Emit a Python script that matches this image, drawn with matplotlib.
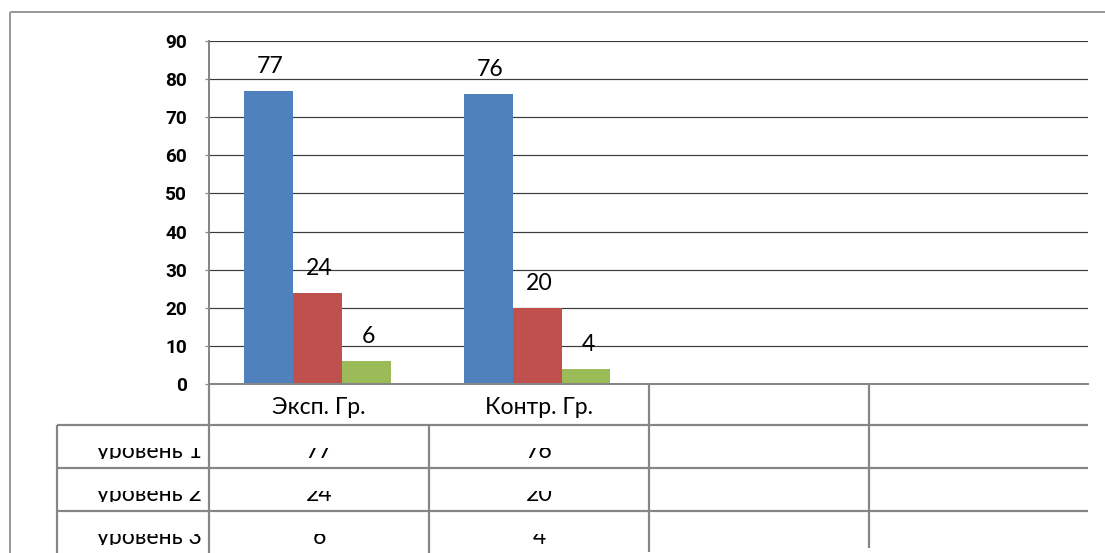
import matplotlib
matplotlib.use("Agg")
import matplotlib.pyplot as plt
from matplotlib.transforms import Bbox, TransformedBbox
import numpy as np

# ---- data ----
categories = ["Эксп. Гр.", "Контр. Гр.", "", ""]
series_names = ["уровень 1", "уровень 2", "уровень 3"]
level1 = [77, 76]
level2 = [24, 20]
level3 = [6, 4]
series_values = [level1, level2, level3]
colors = ["#4F81BD", "#C0504D", "#9BBB59"]
yticks = [0, 10, 20, 30, 40, 50, 60, 70, 80, 90]

W, H = 1105, 553
DPI = 100
PX = 72.0 / DPI  # points per pixel

plt.rcParams['font.family'] = ['Lato', 'DejaVu Sans']

fig = plt.figure(figsize=(W / DPI, H / DPI), dpi=DPI)
fig.patch.set_facecolor("white")

# plot area in pixel coordinates
L, R, T, B = 209, 1088, 41, 384
ax = fig.add_axes([L / W, (H - B) / H, (R - L) / W, (B - T) / H])
ax.set_xlim(-0.5, len(categories) - 0.5)
ax.set_ylim(0, 90)

bw = 0.2225
for i, (vals, c) in enumerate(zip(series_values, colors)):
    x = np.arange(len(vals)) + (i - 1) * bw - 0.007
    ax.bar(x, vals, width=bw, color=c, zorder=3, linewidth=0)
    for xi, v in zip(x, vals):
        ax.annotate(str(v), (xi, v), xytext=(2 * PX, 18 * PX),
                    textcoords="offset points", ha="center", va="baseline",
                    fontsize=23 * PX, color="black", zorder=4)

ax.set_yticks(yticks)
ax.set_yticklabels([str(t) for t in yticks], fontsize=19 * PX, fontweight="bold",
                   family=["Roboto", "DejaVu Sans"])
ax.tick_params(axis="y", direction="out", length=4 * PX, width=1.2 * PX,
               color="#868686", pad=18 * PX)
ax.set_xticks([])
ax.yaxis.grid(True, color="#3c3c3c", linewidth=1.2 * PX, zorder=1)
ax.set_axisbelow(True)
for s in ["top", "right"]:
    ax.spines[s].set_visible(False)
ax.spines["left"].set_color("#868686")
ax.spines["left"].set_linewidth(2 * PX)
ax.spines["bottom"].set_color("#868686")
ax.spines["bottom"].set_linewidth(2 * PX)
ax.spines["bottom"].set_zorder(5)

# ---- overlay for frame and data table (pixel coords, y down) ----
ov = fig.add_axes([0, 0, 1, 1], zorder=10)
ov.set_xlim(0, W)
ov.set_ylim(0, H)
ov.axis("off")
ov.patch.set_alpha(0)

def Y(y):
    return H - y

grey = "#868686"
lw_t = 2.2 * PX
# outer frame
ov.plot([10, 10], [Y(12), Y(H + 5)], color="#9a9a9a", lw=2 * PX, solid_capstyle="butt")
ov.plot([10, W + 5], [Y(12), Y(12)], color="#9a9a9a", lw=2 * PX, solid_capstyle="butt")

# table geometry
cat_edges = [209, 429, 649, 869, 1088]
row_edges = [425, 468, 511, 555]
left_tab = 57
# horizontal lines
for y in row_edges[:-1]:
    ov.plot([left_tab, 1088], [Y(y), Y(y)], color=grey, lw=lw_t, solid_capstyle="butt")
# vertical lines
ov.plot([209, 209], [Y(384), Y(H + 5)], color=grey, lw=lw_t, solid_capstyle="butt")
ov.plot([649, 649], [Y(384), Y(552)], color=grey, lw=lw_t, solid_capstyle="butt")
ov.plot([869, 869], [Y(384), Y(548)], color=grey, lw=lw_t, solid_capstyle="butt")
ov.plot([429, 429], [Y(425), Y(H + 5)], color=grey, lw=lw_t, solid_capstyle="butt")
ov.plot([left_tab, left_tab], [Y(425), Y(H + 5)], color=grey, lw=lw_t, solid_capstyle="butt")

fs_tab = 23 * PX
# header row: category names
for j, name in enumerate(categories):
    cx = (cat_edges[j] + cat_edges[j + 1]) / 2
    if name:
        ov.text(cx, Y(414), name, ha="center", va="baseline", fontsize=fs_tab, color="black")

# data rows (text clipped as in the reference)
baselines = [458, 501, 544]
for r, (sname, vals) in enumerate(zip(series_names, series_values)):
    base = baselines[r]
    top_clip, bot_clip = base - 10, base + 1
    t = ov.text(202, Y(base), sname, ha="right", va="baseline", fontsize=fs_tab,
                color="black", clip_on=True)
    t.set_clip_path(None)
    t.set_clip_box(TransformedBbox(Bbox.from_extents(0, Y(bot_clip), 209, Y(top_clip)), ov.transData))
    for j, v in enumerate(vals):
        cx = (cat_edges[j] + cat_edges[j + 1]) / 2
        t = ov.text(cx, Y(base), str(v), ha="center", va="baseline", fontsize=fs_tab,
                    color="black", clip_on=True)
        t.set_clip_path(None)
        t.set_clip_box(TransformedBbox(Bbox.from_extents(cat_edges[j], Y(bot_clip),
                                                         cat_edges[j + 1], Y(top_clip)), ov.transData))

fig.savefig("out.png", dpi=DPI, facecolor="white")
